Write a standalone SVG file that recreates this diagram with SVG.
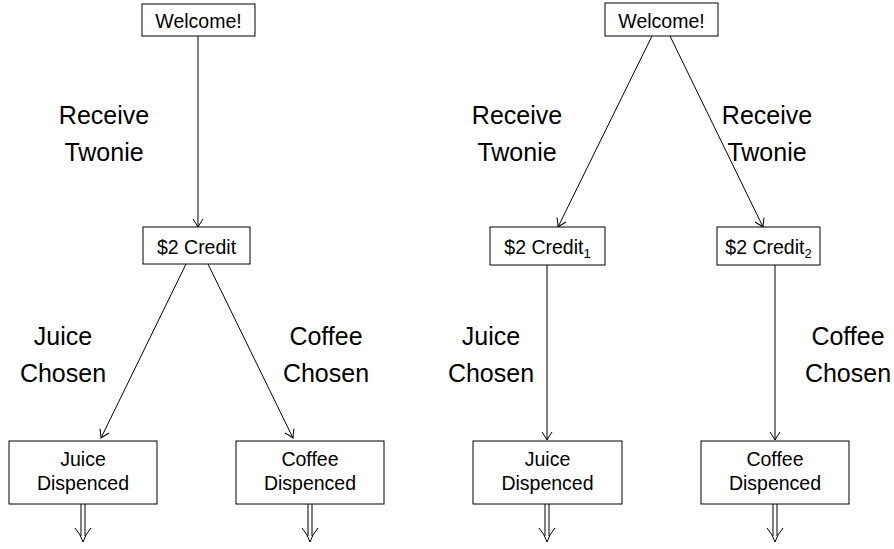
<svg xmlns="http://www.w3.org/2000/svg" width="894" height="549" viewBox="0 0 894 549">
<defs>
<style>
.box{fill:#fff;stroke:#000;stroke-width:1}
.t{font-family:"Liberation Sans",Arial,sans-serif;font-size:19.5px;fill:#000;text-anchor:middle}
.sub{font-size:13px}
.lbl{font-family:"Liberation Sans",Arial,sans-serif;font-size:25px;fill:#000;text-anchor:middle}
.ln{stroke:#000;stroke-width:1;fill:none}
.dbl{stroke:#000;stroke-width:1;fill:none}
</style>
<marker id="ah" markerWidth="12" markerHeight="14" viewBox="-10 -7 12 14" refX="0" refY="0" orient="auto" markerUnits="userSpaceOnUse">
<path d="M-8,-5 Q-2,-1 0,0 Q-2,1 -8,5" fill="none" stroke="#000" stroke-width="1"/>
</marker>
</defs>
<rect width="894" height="549" fill="#fff"/>

<g id="connectors">
<line class="ln" x1="198" y1="36" x2="198" y2="227" marker-end="url(#ah)"/>
<line class="ln" x1="186" y1="264" x2="101" y2="438" marker-end="url(#ah)"/>
<line class="ln" x1="208" y1="264" x2="293" y2="438" marker-end="url(#ah)"/>
<line class="ln" x1="652" y1="36" x2="558" y2="227" marker-end="url(#ah)"/>
<line class="ln" x1="670" y1="36" x2="763" y2="227" marker-end="url(#ah)"/>
<line class="ln" x1="547" y1="265" x2="547" y2="440" marker-end="url(#ah)"/>
<line class="ln" x1="775" y1="265" x2="775" y2="440" marker-end="url(#ah)"/>
<g id="double-arrows">
<path class="dbl" d="M81,504 V536 M85,504 V536 M75,528 Q81,535 83,542 Q85,535 91,528"/>
<path class="dbl" d="M308,504 V536 M312,504 V536 M302,528 Q308,535 310,542 Q312,535 318,528"/>
<path class="dbl" d="M545,504 V536 M549,504 V536 M539,528 Q545,535 547,542 Q549,535 555,528"/>
<path class="dbl" d="M773,504 V536 M777,504 V536 M767,528 Q773,535 775,542 Q777,535 783,528"/>
</g>
</g>

<g id="welcome-left"><rect class="box" x="142" y="4" width="113" height="32"/><text class="t" x="198.5" y="28">Welcome!</text></g>
<g id="credit-left"><rect class="box" x="143" y="227" width="107" height="37"/><text class="t" x="196.5" y="254">$2 Credit</text></g>
<g id="juice-left"><rect class="box" x="9" y="441" width="148" height="63"/><text class="t" x="83" y="466">Juice</text><text class="t" x="83" y="490">Dispenced</text></g>
<g id="coffee-left"><rect class="box" x="236" y="441" width="148" height="63"/><text class="t" x="310" y="466">Coffee</text><text class="t" x="310" y="490">Dispenced</text></g>

<g id="welcome-right"><rect class="box" x="605" y="3" width="113" height="33"/><text class="t" x="661.5" y="28">Welcome!</text></g>
<g id="credit1-right"><rect class="box" x="490" y="227" width="115" height="38"/><text class="t" x="547.5" y="254">$2 Credit<tspan class="sub" dy="4">1</tspan></text></g>
<g id="credit2-right"><rect class="box" x="717" y="227" width="103" height="38"/><text class="t" x="768.5" y="254">$2 Credit<tspan class="sub" dy="4">2</tspan></text></g>
<g id="juice-right"><rect class="box" x="473" y="441" width="149" height="63"/><text class="t" x="547.5" y="466">Juice</text><text class="t" x="547.5" y="490">Dispenced</text></g>
<g id="coffee-right"><rect class="box" x="701" y="441" width="148" height="63"/><text class="t" x="775" y="466">Coffee</text><text class="t" x="775" y="490">Dispenced</text></g>

<g id="labels">
<text class="lbl" x="104" y="124">Receive</text><text class="lbl" x="104" y="161">Twonie</text>
<text class="lbl" x="63" y="345">Juice</text><text class="lbl" x="63" y="382">Chosen</text>
<text class="lbl" x="326" y="345">Coffee</text><text class="lbl" x="326" y="382">Chosen</text>
<text class="lbl" x="517" y="124">Receive</text><text class="lbl" x="517" y="161">Twonie</text>
<text class="lbl" x="767" y="124">Receive</text><text class="lbl" x="767" y="161">Twonie</text>
<text class="lbl" x="491" y="345">Juice</text><text class="lbl" x="491" y="382">Chosen</text>
<text class="lbl" x="848" y="345">Coffee</text><text class="lbl" x="848" y="382">Chosen</text>
</g>
</svg>
